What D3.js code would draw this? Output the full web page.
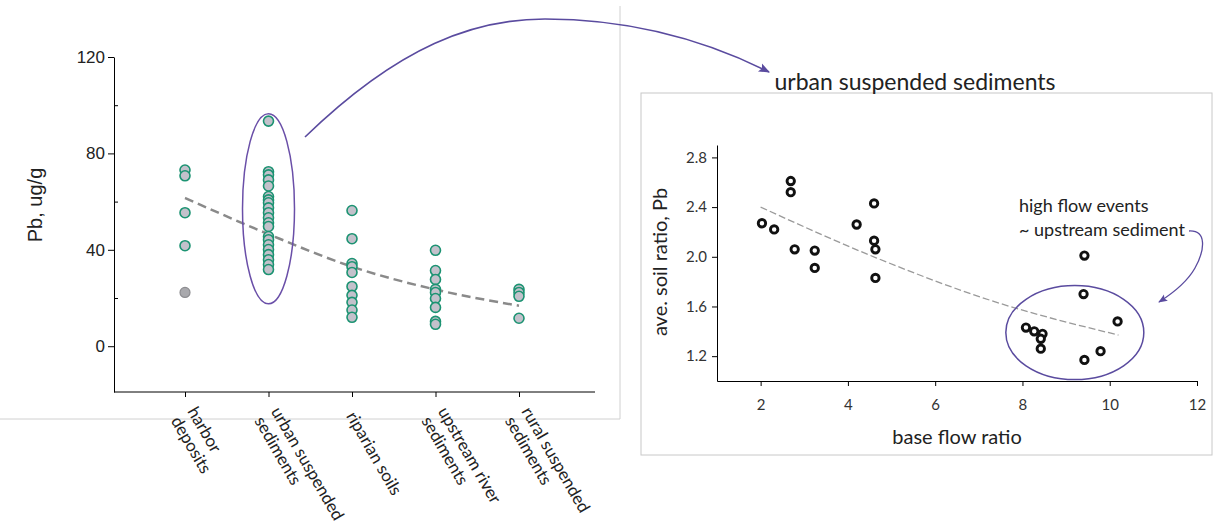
<!DOCTYPE html>
<html>
<head>
<meta charset="utf-8">
<script src="https://cdn.jsdelivr.net/npm/d3@7"></script>
<style>
  body { margin: 0; background: #fff; }
  svg { display: block; }
</style>
</head>
<body>
<script>
// Left panel: Pb by sample type
const categories = ['harbor deposits', 'urban suspended sediments', 'riparian soils', 'upstream river sediments', 'rural suspended sediments'];
const categoryLines = [['harbor', 'deposits'], ['urban suspended', 'sediments'], ['riparian soils'], ['upstream river', 'sediments'], ['rural suspended', 'sediments']];
const harborPb = [73.1, 70.7, 55.4, 41.7];
const harborOutlierPb = [22.3];
const urbanPb = [93.4, 72.4, 71.1, 69.0, 66.5, 62.1, 60.7, 59.5, 57.4, 55.4, 53.3, 51.2, 49.7, 45.5, 44.2, 42.1, 40.1, 38.0, 35.9, 33.9, 31.8];
const riparianPb = [56.3, 44.6, 34.3, 33.0, 30.6, 24.8, 21.1, 18.2, 15.0, 12.0];
const upstreamPb = [39.8, 31.4, 27.7, 23.6, 22.3, 19.8, 16.1, 10.3, 9.1];
const ruralPb = [23.6, 22.3, 20.7, 11.6];
const trendPb = [61.5, 46.5, 33.0, 23.5, 16.8];
const pbTicks = [0, 40, 80, 120];
const pbMinorTicks = [20, 60, 100];

// Right panel: urban suspended sediments
const baseFlowRatio = [2.03, 2.31, 2.69, 2.69, 2.78, 3.24, 3.24, 4.20, 4.60, 4.60, 4.63, 4.63, 8.08, 8.27, 8.46, 8.42, 8.42, 9.42, 9.40, 9.42, 9.79, 10.18];
const soilRatio = [2.27, 2.22, 2.61, 2.52, 2.06, 2.05, 1.91, 2.26, 2.43, 2.13, 2.06, 1.83, 1.43, 1.40, 1.38, 1.34, 1.26, 2.01, 1.70, 1.17, 1.24, 1.48];
const trendFlow = [2.0, 4.66, 7.26, 10.2];
const trendSoil = [2.40, 1.99, 1.65, 1.37];
const flowTicks = [2, 4, 6, 8, 10, 12];
const soilTicks = [1.2, 1.6, 2.0, 2.4, 2.8];

const width = 1217;
const height = 527;
const purple = '#5a4b9f';
const sans = 'Liberation Sans, Arial, sans-serif';
const soft = 'Lato, Open Sans, sans-serif';

const svg = d3.select('body')
  .append('svg')
  .attr('width', width)
  .attr('height', height);

const defs = svg.append('defs');
defs.append('marker')
  .attr('id', 'head')
  .attr('viewBox', '0 0 10 10')
  .attr('refX', 9)
  .attr('refY', 5)
  .attr('markerWidth', 7)
  .attr('markerHeight', 7)
  .attr('orient', 'auto')
  .append('path')
  .attr('d', 'M0,1 L10,5 L0,9 L2,5 Z')
  .attr('fill', purple);

// ---- left panel ----
const left = { x0: 114, x1: 595, y0: 57, y1: 392 };

// faint frame of the pasted figure
svg.append('line').attr('x1', 620).attr('x2', 620).attr('y1', 6).attr('y2', 419).attr('stroke', '#d0d0d0');
svg.append('line').attr('x1', 0).attr('x2', 620).attr('y1', 419).attr('y2', 419).attr('stroke', '#d0d0d0');

const xCat = d3.scalePoint()
  .domain(categories)
  .range([185, 519]);

const yPb = d3.scaleLinear()
  .domain([-19, 120])
  .range([left.y1, left.y0]);

const yAxisL = svg.append('g')
  .attr('transform', `translate(${left.x0},0)`)
  .call(d3.axisLeft(yPb).tickValues(pbTicks).tickSize(6).tickSizeOuter(0).tickPadding(3));
yAxisL.selectAll('text').attr('font-family', sans).attr('font-size', 17).attr('fill', '#222');

svg.append('g')
  .attr('transform', `translate(${left.x0},0)`)
  .call(d3.axisRight(yPb).tickValues(pbMinorTicks).tickSize(4).tickFormat(''))
  .select('.domain').remove();

svg.append('line')
  .attr('x1', left.x0).attr('x2', left.x1)
  .attr('y1', left.y1).attr('y2', left.y1)
  .attr('stroke', '#000');

const xAxisL = svg.append('g')
  .attr('transform', `translate(0,${left.y1})`)
  .call(d3.axisBottom(xCat).tickSize(5).tickFormat(''));
xAxisL.select('.domain').remove();

// rotated category labels
categoryLines.forEach((lines, i) => {
  const t = svg.append('text')
    .attr('transform', `translate(${xCat(categories[i]) - 1},${left.y1 + 21}) rotate(60)`)
    .attr('font-family', soft)
    .attr('font-size', 17)
    .attr('fill', '#222');
  lines.forEach((s, j) => {
    t.append('tspan')
      .attr('x', 0)
      .attr('y', 0)
      .attr('dy', ((j - (lines.length - 1) / 2) * 1.12 + 0.35) + 'em')
      .text(s);
  });
});

svg.append('text')
  .attr('transform', `translate(42,205) rotate(-90)`)
  .attr('text-anchor', 'middle')
  .attr('font-family', sans)
  .attr('font-size', 20)
  .attr('fill', '#222')
  .text('Pb, ug/g');

// trend line
svg.append('path')
  .datum(trendPb)
  .attr('d', d3.line().x((d, i) => xCat(categories[i])).y(d => yPb(d)).curve(d3.curveMonotoneX))
  .attr('fill', 'none')
  .attr('stroke', '#8a8a8a')
  .attr('stroke-width', 2.5)
  .attr('stroke-dasharray', '9,5');

const groups = [harborPb, urbanPb, riparianPb, upstreamPb, ruralPb];
groups.forEach((vals, i) => {
  svg.selectAll(null)
    .data(vals)
    .enter()
    .append('circle')
    .attr('cx', xCat(categories[i]))
    .attr('cy', d => yPb(d))
    .attr('r', 5)
    .attr('fill', '#c3c1cb')
    .attr('stroke', '#1c9372')
    .attr('stroke-width', 1.6);
});

svg.selectAll(null)
  .data(harborOutlierPb)
  .enter()
  .append('circle')
  .attr('cx', xCat(categories[0]))
  .attr('cy', d => yPb(d))
  .attr('r', 5)
  .attr('fill', '#a9a9ad')
  .attr('stroke', '#8c8c90')
  .attr('stroke-width', 1.2);

// ellipse around urban
svg.append('ellipse')
  .attr('cx', xCat(categories[1]))
  .attr('cy', yPb(57))
  .attr('rx', 26)
  .attr('ry', 95)
  .attr('fill', 'none')
  .attr('stroke', '#6a4fa8')
  .attr('stroke-width', 1.5);

// big connecting arrow
const big = d3.path();
big.moveTo(305, 137);
big.bezierCurveTo(400, 45, 475, 19, 545, 19);
big.bezierCurveTo(640, 19, 715, 45, 769, 72);
svg.append('path')
  .attr('d', big.toString())
  .attr('fill', 'none')
  .attr('stroke', purple)
  .attr('stroke-width', 1.6)
  .attr('marker-end', 'url(#head)');

// ---- right panel ----
svg.append('rect')
  .attr('x', 641).attr('y', 93)
  .attr('width', 571).attr('height', 362)
  .attr('fill', 'none')
  .attr('stroke', '#c8c8c8');

svg.append('text')
  .attr('x', 915).attr('y', 90)
  .attr('text-anchor', 'middle')
  .attr('font-family', soft)
  .attr('font-size', 23)
  .attr('fill', '#222')
  .text('urban suspended sediments');

const xFlow = d3.scaleLinear().domain([1, 12]).range([717, 1197]);
const ySoil = d3.scaleLinear().domain([1, 2.9]).range([381, 145]);

const xAxisR = svg.append('g')
  .attr('transform', 'translate(0,381)')
  .call(d3.axisBottom(xFlow).tickValues(flowTicks).tickSize(5).tickSizeOuter(0).tickPadding(13));
xAxisR.selectAll('text').attr('font-family', soft).attr('font-size', 15).attr('fill', '#333');

const yAxisR = svg.append('g')
  .attr('transform', 'translate(717,0)')
  .call(d3.axisLeft(ySoil).tickValues(soilTicks).tickSize(5).tickSizeOuter(0).tickFormat(d3.format('.1f')).tickPadding(5));
yAxisR.selectAll('text').attr('font-family', soft).attr('font-size', 15).attr('fill', '#333');

svg.append('text')
  .attr('transform', 'translate(667,262) rotate(-90)')
  .attr('text-anchor', 'middle')
  .attr('font-family', soft)
  .attr('font-size', 20)
  .attr('fill', '#222')
  .text('ave. soil ratio, Pb');

svg.append('text')
  .attr('x', 957).attr('y', 444)
  .attr('text-anchor', 'middle')
  .attr('font-family', soft)
  .attr('font-size', 20)
  .attr('fill', '#222')
  .text('base flow ratio');

svg.append('path')
  .datum(trendFlow.map((x, i) => [x, trendSoil[i]]))
  .attr('d', d3.line().x(d => xFlow(d[0])).y(d => ySoil(d[1])).curve(d3.curveMonotoneX))
  .attr('fill', 'none')
  .attr('stroke', '#9a9a9a')
  .attr('stroke-width', 1.3)
  .attr('stroke-dasharray', '7,3');

svg.selectAll(null)
  .data(baseFlowRatio)
  .enter()
  .append('circle')
  .attr('cx', d => xFlow(d))
  .attr('cy', (d, i) => ySoil(soilRatio[i]))
  .attr('r', 3.7)
  .attr('fill', '#fff')
  .attr('stroke', '#111')
  .attr('stroke-width', 2.9);

svg.append('ellipse')
  .attr('cx', xFlow(9.2))
  .attr('cy', ySoil(1.39))
  .attr('rx', 69)
  .attr('ry', 47)
  .attr('fill', 'none')
  .attr('stroke', purple)
  .attr('stroke-width', 1.5);

svg.append('text')
  .attr('x', 1019).attr('y', 212)
  .attr('font-family', soft)
  .attr('font-size', 18)
  .attr('fill', '#222')
  .text('high flow events');

svg.append('text')
  .attr('x', 1019).attr('y', 236)
  .attr('font-family', soft)
  .attr('font-size', 18)
  .attr('fill', '#222')
  .text('~ upstream sediment');

const note = d3.path();
note.moveTo(1189, 231);
note.bezierCurveTo(1207, 230, 1205, 250, 1195, 268);
note.bezierCurveTo(1186, 284, 1170, 295, 1159, 302);
svg.append('path')
  .attr('d', note.toString())
  .attr('fill', 'none')
  .attr('stroke', purple)
  .attr('stroke-width', 1.3)
  .attr('marker-end', 'url(#head)');
</script>
</body>
</html>
